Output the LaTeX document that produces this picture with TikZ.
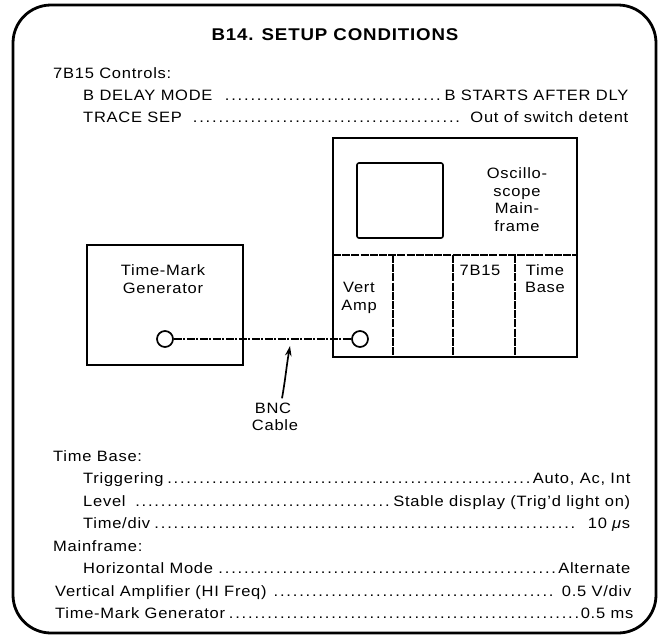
\documentclass[tikz,border=0pt]{standalone}
\usepackage{fontspec}
\setmainfont{Liberation Sans}[FakeStretch=1.1,LetterSpace=5]
\usetikzlibrary{arrows.meta}
\newcommand\dotlead{\leaders\hbox to 6.4pt{\hss.\hss}\hfill}
\tikzset{
  frame/.style={line width=2.8pt, rounded corners=38pt},
  unitbox/.style={draw, line width=2.6pt, inner sep=0pt},
  divider/.style={line width=1.4pt, dash pattern=on 8pt off 1.2pt},
  jack/.style={draw, circle, line width=1.7pt, minimum size=16pt, inner sep=0pt},
  txt/.style={font=\fontsize{15}{18}\selectfont, inner sep=0pt},
  lbl/.style={txt, align=center, anchor=base},
  row/.style={txt, anchor=base west},
  cable/.style={line width=1.2pt, dash pattern=on 8pt off 1.5pt on 2pt off 1.5pt},
}
\begin{document}
\begin{tikzpicture}[x=1pt,y=-1pt]
\useasboundingbox (0,0) rectangle (665,641);
\fill[white] (0,0) rectangle (665,641);
% outer frame
\draw[frame] (13,5) rectangle (656,633);
% title
\node[txt, font=\fontsize{17}{20}\selectfont\bfseries, anchor=base] (title) at (335,40) {B14. SETUP CONDITIONS};
% top controls
\node[row] (c0) at (53,78) {7B15 Controls:};
\node[row] (c1) at (83,100) {\hbox to 545pt{B DELAY MODE \dotlead B STARTS AFTER DLY}};
\node[row] (c2) at (83,122) {\hbox to 545pt{TRACE SEP \dotlead\ Out of switch detent}};
% time-mark generator
\node[unitbox, minimum width=156pt, minimum height=120pt] (tmg) at (165,305) {};
\node[lbl] (tmgtxt) at (163,275) {Time-Mark};
\node[lbl] (tmgtxt2) at (163,293) {Generator};
\node[jack] (j1) at (165,339) {};
% oscilloscope mainframe
\node[unitbox, minimum width=244pt, minimum height=219pt] (osc) at (455,247.5) {};
\node[draw, line width=1.6pt, rounded corners=2pt, minimum width=86pt, minimum height=75pt, inner sep=0pt] (screen) at (400,200.5) {};
\node[lbl] (o1) at (517,178) {Oscillo-};
\node[lbl] (o2) at (517,196) {scope};
\node[lbl] (o3) at (517,213) {Main-};
\node[lbl] (o4) at (517,231) {frame};
\coordinate (dL) at (333,255);
\coordinate (dR) at (577,255);
\draw[divider] (dL) -- (dR);
\coordinate (v1t) at (393,255); \coordinate (v1b) at (393,357);
\coordinate (v2t) at (453,255); \coordinate (v2b) at (453,357);
\coordinate (v3t) at (515,255); \coordinate (v3b) at (515,357);
\draw[divider] (v1t) -- (v1b);
\draw[divider] (v2t) -- (v2b);
\draw[divider] (v3t) -- (v3b);
\node[lbl] (vert) at (359,292) {Vert};
\node[lbl] (amp) at (359,310) {Amp};
\node[lbl] (b15) at (480,275) {7B15};
\node[lbl] (tb1) at (545,275) {Time};
\node[lbl] (tb2) at (545,292) {Base};
\node[jack] (j2) at (360,339) {};
% cable
\draw[cable] (j1) -- (j2);
\node[lbl] (bnc) at (273,413) {BNC};
\node[lbl] (cab) at (275,430) {Cable};
\coordinate (tip) at (290,346);
\draw[line width=1.7pt, -{Stealth[length=10pt,width=6.5pt]}] (bnc.north) ++(9,-4) to[out=80,in=-100] (tip);
% bottom settings
\node[row] (t0) at (53,461) {Time Base:};
\node[row] (t1) at (83,483) {\hbox to 547pt{Triggering\dotlead Auto, Ac, Int}};
\node[row] (t2) at (83,506) {\hbox to 547pt{Level \dotlead Stable display (Trig'd light on)}};
\node[row] (t3) at (83,528) {\hbox to 547pt{Time/div\dotlead\ 10 \textit{μ}s}};
\node[row] (t4) at (53,551) {Mainframe:};
\node[row] (t5) at (83,573) {\hbox to 547pt{Horizontal Mode\dotlead Alternate}};
\node[row] (t6) at (55,596) {\hbox to 576pt{Vertical Amplifier (HI Freq) \dotlead\ 0.5 V/div}};
\node[row] (t7) at (55,618) {\hbox to 578pt{Time-Mark Generator\dotlead 0.5 ms}};
\end{tikzpicture}
\end{document}
